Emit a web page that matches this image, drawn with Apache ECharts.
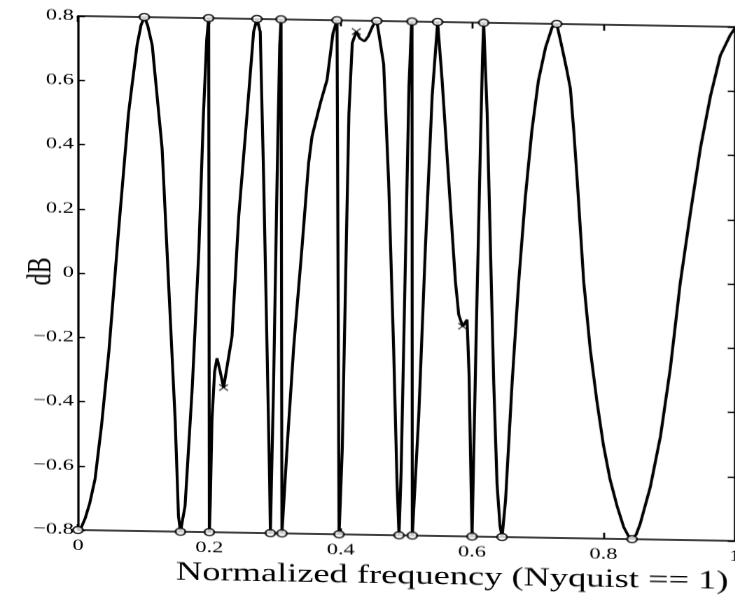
<!DOCTYPE html>
<html>
<head>
<meta charset="utf-8">
<script src="https://cdn.jsdelivr.net/npm/echarts@6/dist/echarts.min.js"></script>
<style>
  html, body { margin: 0; padding: 0; background: #fff; overflow: hidden; }
  /* the printed figure sits slightly sheared and stretched on the page */
  #page { position: absolute; left: 0; top: 0; width: 735px; height: 599px;
          transform-origin: 78px 16px; transform: skewY(0.95deg); }
  #chart { position: absolute; left: 0; top: 0; width: 560px; height: 599px;
           transform-origin: 0 0; transform: scaleX(1.4); }
</style>
</head>
<body>
<div id="page"><div id="chart"></div></div>
<script>
// Weighted error of the multiband design, normalised to the ripple bound.
const responseFreq = [
  0.000, 0.005, 0.011, 0.018, 0.026, 0.036, 0.047, 0.062, 0.077, 0.090, 0.096, 0.101,
  0.106, 0.113, 0.128, 0.138, 0.148, 0.153, 0.156, 0.163, 0.174, 0.184,
  0.191, 0.196, 0.199, 0.200, 0.2015, 0.2040, 0.2080, 0.2117, 0.2160, 0.2217,
  0.2345, 0.2446, 0.2573, 0.2674, 0.2725, 0.2775, 0.2827, 0.2878, 0.2918, 0.2929,
  0.2979, 0.3031, 0.3071, 0.3092, 0.3105, 0.3183, 0.3284, 0.3411, 0.3511, 0.3563,
  0.3690, 0.3792, 0.3883, 0.3944, 0.3975, 0.4024, 0.4074, 0.4125, 0.4176, 0.4238,
  0.4290, 0.4364, 0.4420, 0.4490, 0.4550, 0.4654, 0.4730, 0.4806, 0.4858, 0.4888,
  0.4920, 0.4980, 0.5040, 0.5075, 0.5086, 0.5090, 0.5189, 0.5290, 0.5393, 0.5476,
  0.5543, 0.5644, 0.5746, 0.5797, 0.5857, 0.5924, 0.5955, 0.5990, 0.6000, 0.6060,
  0.6120, 0.6160, 0.6177, 0.6230, 0.6280, 0.6330, 0.6380, 0.6425, 0.6457, 0.6510,
  0.6610, 0.6710, 0.6810, 0.6910, 0.7010, 0.7120, 0.7220, 0.7290, 0.7370, 0.7440,
  0.7497, 0.7550, 0.7600, 0.7700, 0.7800, 0.7900, 0.8000, 0.8100, 0.8210, 0.8310,
  0.8380, 0.8436, 0.8500, 0.8560, 0.8715, 0.8870, 0.9020, 0.9170, 0.9320, 0.9480,
  0.9630, 0.9780, 0.9930, 1.0000
];
const responseDb = [
  -0.800, -0.792, -0.763, -0.715, -0.640, -0.470, -0.243, 0.140, 0.501, 0.713, 0.775, 0.800,
  0.775, 0.713, 0.394, -0.030, -0.455, -0.752, -0.800, -0.720, -0.349, 0.076,
  0.500, 0.734, 0.800, -0.800, -0.700, -0.450, -0.300, -0.258, -0.295, -0.349,
  -0.190, 0.182, 0.500, 0.760, 0.800, 0.760, 0.300, -0.220, -0.640, -0.800,
  -0.325, 0.300, 0.720, 0.800, -0.800, -0.534, -0.220, 0.092, 0.353, 0.437,
  0.541, 0.614, 0.760, 0.800, -0.800, -0.534, -0.012, 0.510, 0.730, 0.766,
  0.745, 0.736, 0.752, 0.785, 0.800, 0.666, 0.300, -0.220, -0.640, -0.800,
  -0.600, 0.000, 0.600, 0.780, 0.800, -0.800, -0.424, 0.099, 0.570, 0.800,
  0.622, 0.309, -0.005, -0.110, -0.146, -0.125, -0.300, -0.700, -0.800, -0.200,
  0.350, 0.700, 0.800, 0.518, 0.099, -0.319, -0.633, -0.765, -0.800, -0.685,
  -0.319, -0.005, 0.256, 0.465, 0.622, 0.727, 0.790, 0.800, 0.727, 0.660,
  0.600, 0.465, 0.318, 0.000, -0.212, -0.371, -0.508, -0.614, -0.699, -0.763,
  -0.790, -0.800, -0.785, -0.752, -0.636, -0.477, -0.265, 0.000, 0.212, 0.424,
  0.583, 0.710, 0.774, 0.795
];

// Extremal frequencies (open circles)
const extremaFreq = [0.000, 0.101, 0.156, 0.199, 0.200, 0.2725, 0.2929, 0.3092, 0.3105,
  0.3944, 0.3975, 0.4550, 0.4888, 0.5086, 0.5090, 0.5476, 0.6000, 0.6177, 0.6457, 0.7290, 0.8436];
const extremaDb = [-0.8, 0.8, -0.8, 0.8, -0.8, 0.8, -0.8, 0.8, -0.8,
  0.8, -0.8, 0.8, -0.8, 0.8, -0.8, 0.8, -0.8, 0.8, -0.8, 0.8, -0.8];

// Band edges (crosses)
const edgeFreq = [0.2217, 0.4238, 0.5857];
const edgeDb = [-0.349, 0.766, -0.146];

// Axis ticks
const xTickValues = [0, 0.2, 0.4, 0.6, 0.8, 1];
const yTickValues = [-0.8, -0.6, -0.4, -0.2, 0, 0.2, 0.4, 0.6, 0.8];

const FONT = '"Liberation Serif", "Times New Roman", serif';
const pairs = (xs, ys) => xs.map((x, i) => [x, ys[i]]);
const fmt = v => {
  const r = Math.round(v * 10) / 10;
  if (r === 0) return '0';
  return (r < 0 ? '\u2212' : '') + String(Math.abs(r));
};

const lineCol = '#000';
const baseAxis = {
  type: 'value',
  splitLine: { show: false },
  axisLine: { show: true, onZero: false, lineStyle: { color: lineCol, width: 1.6 } },
  axisTick: { show: true, inside: true, lineStyle: { color: lineCol, width: 1.4 } },
};

const chart = echarts.init(document.getElementById('chart'), null, { devicePixelRatio: 2 });
chart.setOption({
  animation: false,
  backgroundColor: '#fff',
  grid: { left: 55.7, top: 16, width: 469.1, height: 514, containLabel: false },
  xAxis: [
    Object.assign({}, baseAxis, {
      position: 'bottom', min: xTickValues[0], max: xTickValues[xTickValues.length - 1],
      interval: 0.2,
      axisTick: Object.assign({}, baseAxis.axisTick, { length: 6 }),
      axisLabel: { show: true, margin: 8, fontSize: 16, fontFamily: FONT, color: '#000',
                   showMinLabel: true, showMaxLabel: true, formatter: fmt }
    }),
    Object.assign({}, baseAxis, {
      position: 'top', min: 0, max: 1, interval: 0.2,
      axisTick: Object.assign({}, baseAxis.axisTick, { length: 6 }),
      axisLabel: { show: false }
    })
  ],
  yAxis: [
    Object.assign({}, baseAxis, {
      position: 'left', min: yTickValues[0], max: yTickValues[yTickValues.length - 1],
      interval: 0.2,
      axisTick: Object.assign({}, baseAxis.axisTick, { length: 5 }),
      axisLabel: { show: true, margin: 3, fontSize: 16, fontFamily: FONT, color: '#000',
                   showMinLabel: true, showMaxLabel: true, formatter: fmt }
    }),
    Object.assign({}, baseAxis, {
      position: 'right', min: -0.8, max: 0.8, interval: 0.2,
      axisTick: Object.assign({}, baseAxis.axisTick, { length: 5 }),
      axisLabel: { show: false }
    })
  ],
  graphic: [
    {
      type: 'text', x: 323, y: 571, z: 10,
      style: { text: 'Normalized frequency (Nyquist == 1)', font: '26px ' + FONT,
               fill: '#000', textAlign: 'center', textVerticalAlign: 'middle' }
    },
    {
      type: 'text', x: 29.5, y: 272, rotation: Math.PI / 2, z: 10,
      style: { text: 'dB', font: '24px ' + FONT, fill: '#000',
               textAlign: 'center', textVerticalAlign: 'middle' }
    }
  ],
  series: [
    {
      type: 'line', xAxisIndex: 0, yAxisIndex: 0,
      data: pairs(responseFreq, responseDb),
      showSymbol: false, smooth: false, clip: false,
      lineStyle: { color: lineCol, width: 2.1 }, z: 2
    },
    {
      type: 'scatter', xAxisIndex: 0, yAxisIndex: 0,
      data: pairs(extremaFreq, extremaDb),
      symbol: 'circle', symbolSize: 7, clip: false,
      itemStyle: { color: '#fff', borderColor: '#000', borderWidth: 1.5 }, z: 3
    },
    {
      type: 'scatter', xAxisIndex: 0, yAxisIndex: 0,
      data: pairs(edgeFreq, edgeDb),
      symbol: 'path://M0,1L1,0L5,4L9,0L10,1L6,5L10,9L9,10L5,6L1,10L0,9L4,5Z',
      symbolSize: 7, clip: false,
      itemStyle: { color: '#000' }, z: 3
    }
  ]
});
</script>
</body>
</html>
